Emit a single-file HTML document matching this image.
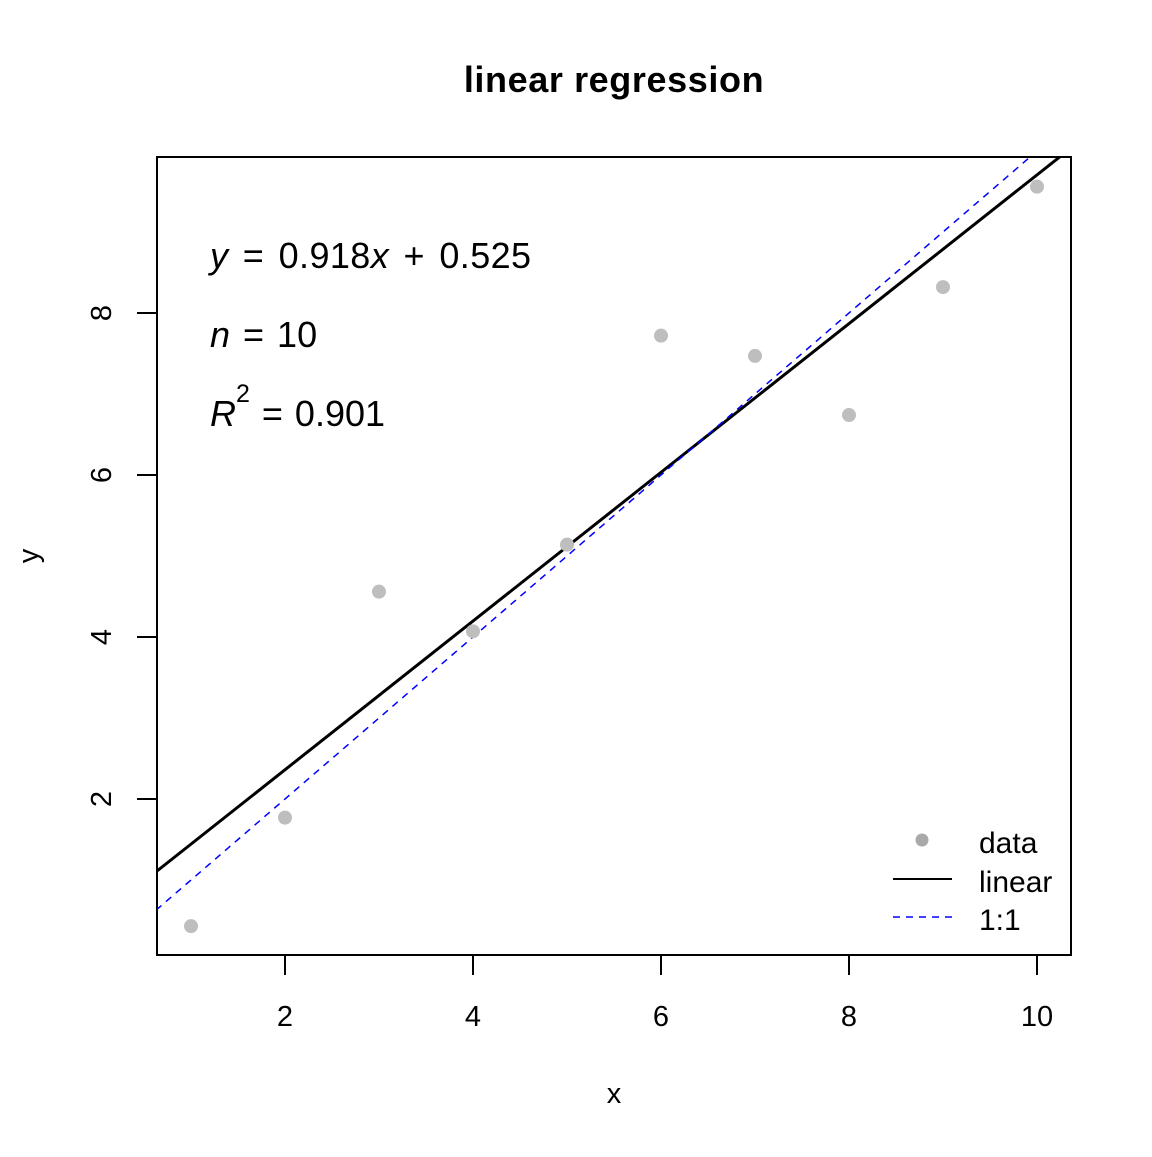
<!DOCTYPE html>
<html><head><meta charset="utf-8"><style>
body{margin:0;background:#fff}
svg text{font-family:"Liberation Sans",Arial,sans-serif;fill:#000}
</style></head><body>
<svg id="chart" width="1152" height="1152" xmlns="http://www.w3.org/2000/svg">
<defs><clipPath id="clip"><rect x="157" y="157" width="914" height="798"/></clipPath></defs>
<text x="614" y="92" font-size="36" font-weight="bold" letter-spacing="0.6" text-anchor="middle">linear regression</text>
<rect x="157" y="157" width="914" height="798" fill="none" stroke="#000" stroke-width="2"/>
<g id="xaxis"></g>
<g id="yaxis"></g>
<text x="614" y="1103" font-size="29" text-anchor="middle">x</text>
<text transform="translate(38,556) rotate(-90)" font-size="29" text-anchor="middle">y</text>
<g id="lines" clip-path="url(#clip)"></g>
<g id="points"></g>
<text x="210" y="268" font-size="36" word-spacing="4" letter-spacing="0.4"><tspan font-style="italic">y</tspan> = 0.918<tspan font-style="italic">x</tspan>  + 0.525</text>
<text x="210" y="347" font-size="36" word-spacing="3"><tspan font-style="italic">n</tspan> = 10</text>
<text x="210" y="426" font-size="36"><tspan font-style="italic">R</tspan><tspan font-size="25" dy="-24">2</tspan><tspan dy="24" word-spacing="2"> = 0.901</tspan></text>
<g>
<circle cx="922" cy="840" r="6.5" fill="#a9a9a9"/>
<text x="979" y="853" font-size="30">data</text>
<line x1="893" y1="879" x2="952" y2="879" stroke="#000" stroke-width="2"/>
<text x="979" y="892" font-size="30">linear</text>
<line x1="893" y1="917" x2="952" y2="917" stroke="#0000ff" stroke-width="1.5" stroke-dasharray="7,6"/>
<text x="979" y="930" font-size="30">1:1</text>
</g>
</svg>
<script>
const xs=[1,2,3,4,5,6,7,8,9,10];
const ys=[0.43,1.77,4.56,4.07,5.14,7.72,7.47,6.74,8.32,9.56];
const xTicks=[2,4,6,8,10];
const yTicks=[2,4,6,8];
const slope=0.918, intercept=0.525;
const NS="http://www.w3.org/2000/svg";
const sx=v=>97+94*v, sy=v=>961-81*v;
function mk(t,a,p){const e=document.createElementNS(NS,t);for(const k in a)e.setAttribute(k,a[k]);p.appendChild(e);return e;}
const xa=document.getElementById('xaxis'),ya=document.getElementById('yaxis');
mk('line',{x1:sx(2),x2:sx(10),y1:955,y2:955,stroke:'#000','stroke-width':2},xa);
xTicks.forEach(v=>{const l=mk('line',{x1:sx(v),x2:sx(v),y1:955,y2:975,stroke:'#000','stroke-width':2},xa);


const t=mk('text',{x:sx(v),y:1026,'font-size':29,'text-anchor':'middle'},xa);t.textContent=v;

});
mk('line',{x1:157,x2:157,y1:sy(2),y2:sy(8),stroke:'#000','stroke-width':2},ya);
yTicks.forEach(v=>{const l=mk('line',{x1:137,x2:157,y1:sy(v),y2:sy(v),stroke:'#000','stroke-width':2},ya);


const t=mk('text',{transform:`translate(111,${sy(v)}) rotate(-90)`,'font-size':29,'text-anchor':'middle'},ya);t.textContent=v;

});
const lg=document.getElementById('lines');
const x0=0,x1=12;
const ll=mk('line',{x1:sx(x0),y1:sy(intercept+slope*x0),x2:sx(x1),y2:sy(intercept+slope*x1),stroke:'#000','stroke-width':3},lg);


const dl=mk('line',{x1:sx(x0),y1:sy(x0),x2:sx(x1),y2:sy(x1),stroke:'#0000ff','stroke-width':1.5,'stroke-dasharray':'7,6'},lg);


const pg=document.getElementById('points');
xs.forEach((x,i)=>{const c=mk('circle',{cx:sx(x),cy:sy(ys[i]),r:7,fill:'#bebebe'},pg);

});
</script>
</body></html>
